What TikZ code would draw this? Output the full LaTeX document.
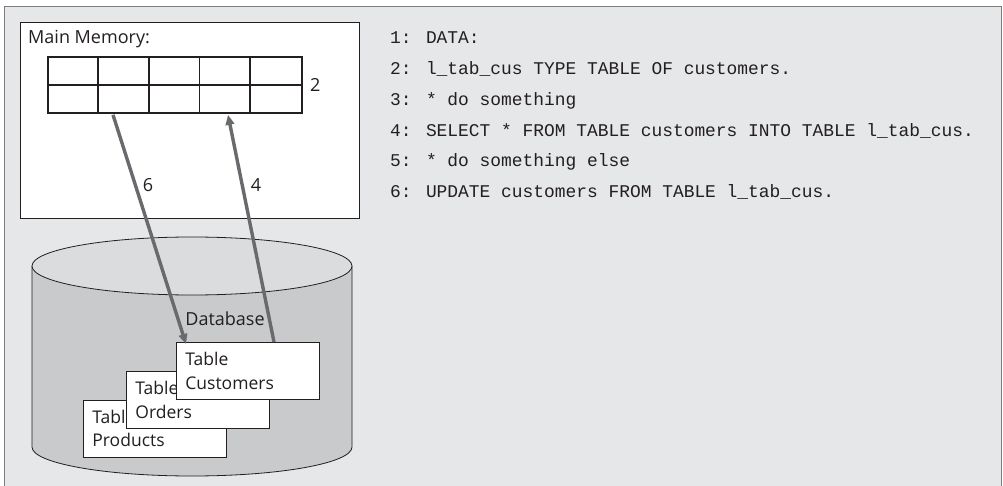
\documentclass[tikz,border=0pt]{standalone}
\usepackage{fontspec}
\setmainfont{Open Sans}
\newfontfamily\codefont{Liberation Mono}
\usetikzlibrary{arrows.meta,calc}

\definecolor{panelbg}{RGB}{230,231,232}
\definecolor{panelrule}{RGB}{125,125,128}
\definecolor{dbside}{RGB}{201,202,204}
\definecolor{dbtop}{RGB}{219,220,222}
\definecolor{flow}{RGB}{105,106,109}
\definecolor{ink}{RGB}{35,31,32}

\tikzset{
  sanslabel/.style={font=\fontsize{18}{23.5}\selectfont, text=ink, inner sep=0pt},
  codeline/.style={font=\codefont\fontsize{17.9}{20}\selectfont, text=ink, inner sep=0pt, anchor=base west},
  tablebox/.style={draw=ink, line width=0.8pt, fill=white, anchor=north west,
    minimum width=143pt, minimum height=57pt, text width=125pt, inner xsep=9pt,
    inner ysep=0pt, align=left, font=\fontsize{17.5}{23.5}\selectfont, text=ink},
  gridline/.style={draw=ink, line width=1.8pt},
  flowarrow/.style={draw=flow, line width=3.4pt, -{Triangle[length=10pt,width=8.5pt]}},
}

\begin{document}
\begin{tikzpicture}[x=1pt,y=-1pt]
  \useasboundingbox (0,0) rectangle (1003,486);

  % panel background
  \fill[panelbg] (4.5,7) rectangle (1001.5,490);
  \draw[panelrule, line width=1pt] (4.5,490) -- (4.5,7) -- (1001.5,7) -- (1001.5,490);

  % main memory box
  \node[draw=ink, line width=0.8pt, fill=white, anchor=north west,
        minimum width=339pt, minimum height=196pt, inner sep=0pt] (mem) at (20,22) {};
  \node[sanslabel, anchor=base west] (memlabel) at (28,44) {Main Memory:};

  % internal table: 5 columns x 2 rows
  \node[gridline, anchor=north west, minimum width=254pt, minimum height=56pt,
        inner sep=0pt] (itab) at (47,56) {};
  \draw[gridline] (itab.west) -- (itab.east);
  \foreach \k in {1,...,4}
    \draw[gridline] ($(itab.north west)+(50.8*\k,0)$) -- ($(itab.south west)+(50.8*\k,0)$);
  \node[sanslabel, anchor=west] (itablabel) at (310,85) {2};

  % database cylinder
  \fill[dbside] (32,266) -- (32,447) arc[start angle=180, end angle=360, x radius=160, y radius=-29]
     -- (352,266) -- cycle;
  \draw[ink, line width=0.8pt] (32,266) -- (32,447) arc[start angle=180, end angle=360, x radius=160, y radius=-29]
     -- (352,266);
  \draw[ink, line width=0.8pt, fill=dbtop] (192,266) ellipse[x radius=160, y radius=29];
  \node[sanslabel] (dblabel) at (225,319) {Database};

  % database tables
  \node[tablebox] (tprod) at (83,399.5) {Table\\Products};
  \node[tablebox] (tord) at (126,371) {Table\\Orders};
  \node[tablebox] (tcus) at (176,342) {Table\\Customers};

  % data flows between memory and database
  \coordinate (upd-start) at ($(itab.south west)+(66,1)$);
  \coordinate (upd-end) at ($(tcus.north west)+(10,2)$);
  \coordinate (sel-start) at ($(tcus.north west)+(98,0)$);
  \coordinate (sel-end) at ($(itab.south west)+(181,1)$);
  \draw[flowarrow] (upd-start) -- (upd-end);
  \draw[flowarrow] (sel-start) -- (sel-end);
  \node[sanslabel] (lbl6) at (148,185) {6};
  \node[sanslabel] (lbl4) at (256,185) {4};

  % ABAP source
  \node[codeline] (l1) at (390,44) {1: DATA:};
  \node[codeline] (l2) at (390,75) {2: l\_tab\_cus TYPE TABLE OF customers.};
  \node[codeline] (l3) at (390,106) {3: * do something};
  \node[codeline] (l4) at (390,137) {4: SELECT * FROM TABLE customers INTO TABLE l\_tab\_cus.};
  \node[codeline] (l5) at (390,167) {5: * do something else};
  \node[codeline] (l6) at (390,198) {6: UPDATE customers FROM TABLE l\_tab\_cus.};
\end{tikzpicture}
\end{document}
